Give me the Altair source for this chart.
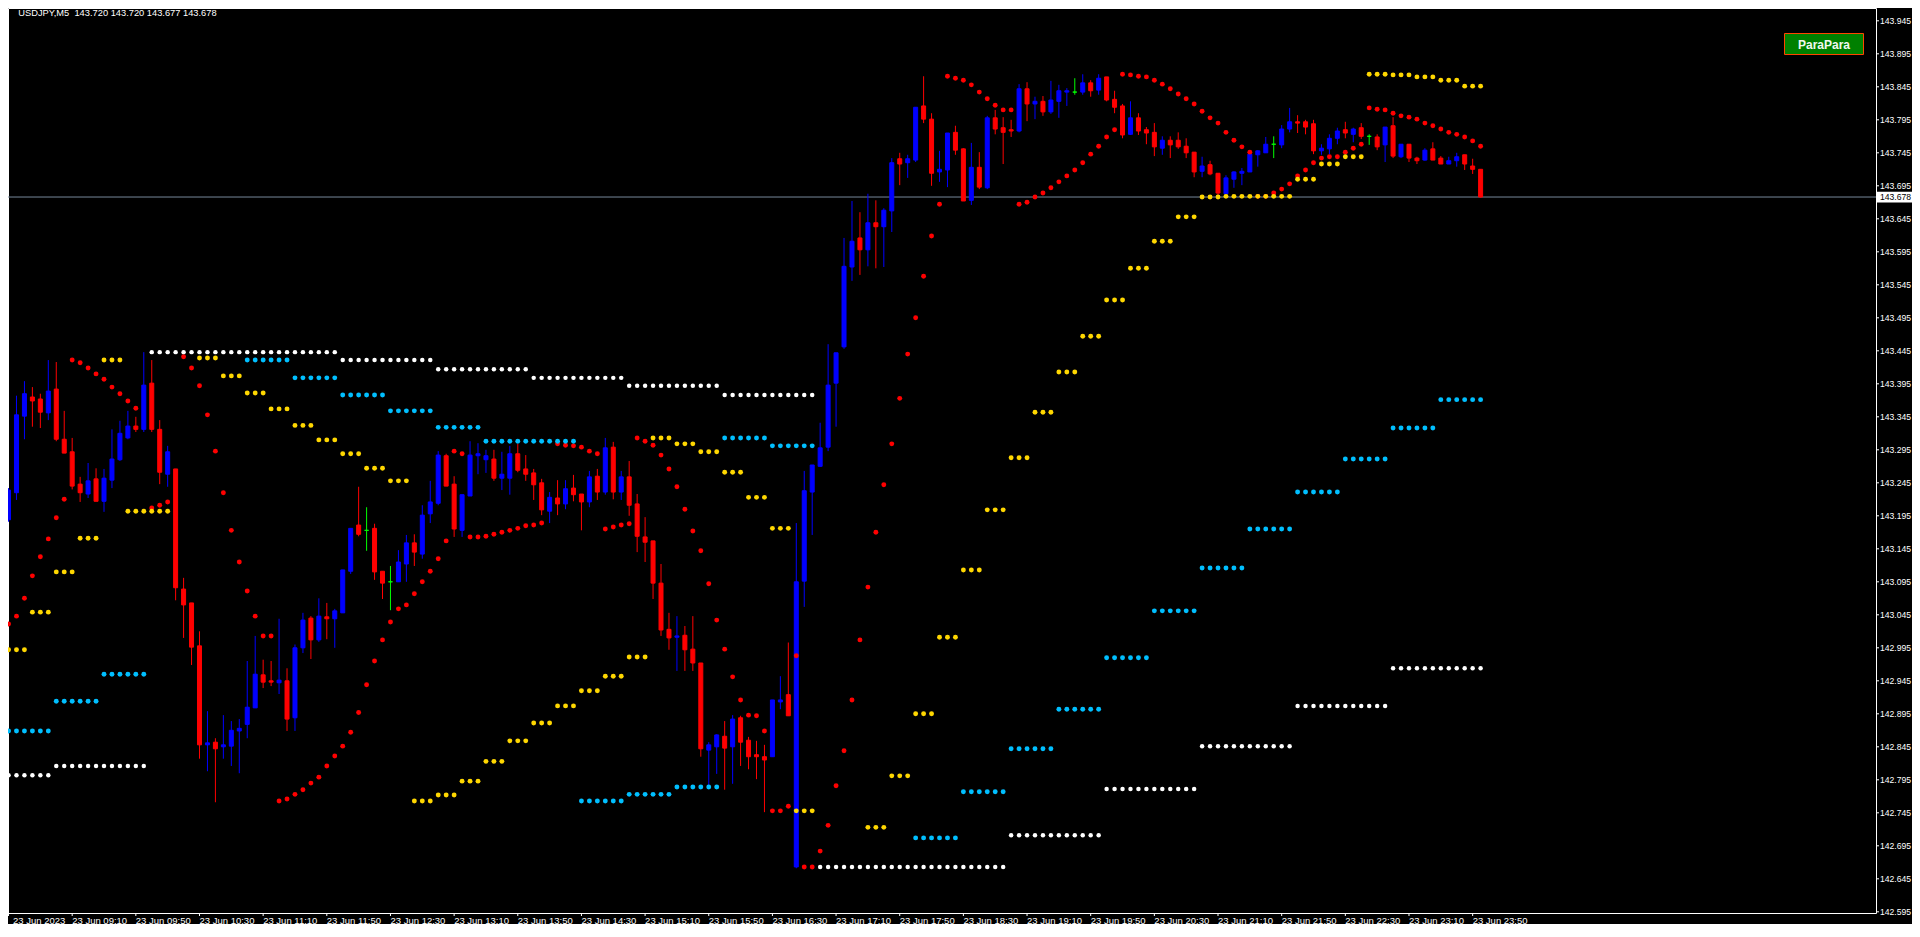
import altair as alt
import pandas as pd

# ---------------- data ----------------
symbol = "USDJPY,M5"

opens = [
    143.189, 143.230, 143.346, 143.375, 143.372, 143.351, 143.387, 143.311, 143.292, 143.243,
    143.228, 143.251, 143.217, 143.249, 143.280, 143.313, 143.331, 143.326, 143.396, 143.326,
    143.258, 143.266, 143.084, 143.063, 142.998, 142.848, 142.852, 142.845, 142.846, 142.869,
    142.879, 142.904, 142.954, 142.945, 142.942, 142.945, 142.889, 142.995, 143.040, 143.007,
    143.042, 143.039, 143.048, 143.111, 143.181, 143.173, 143.176, 143.111, 143.095, 143.095,
    143.122, 143.154, 143.137, 143.198, 143.214, 143.286, 143.243, 143.173, 143.225, 143.286,
    143.280, 143.281, 143.252, 143.252, 143.289, 143.266, 143.260, 143.245, 143.202, 143.222,
    143.213, 143.237, 143.228, 143.216, 143.255, 143.231, 143.299, 143.231, 143.254, 143.213,
    143.163, 143.157, 143.093, 143.023, 143.011, 143.014, 142.993, 142.972, 142.840, 142.845,
    142.861, 142.845, 142.889, 142.855, 142.833, 142.830, 142.830, 142.913, 142.924, 142.663,
    143.096, 143.231, 143.270, 143.299, 143.396, 143.451, 143.572, 143.616, 143.598, 143.639,
    143.633, 143.657, 143.736, 143.730, 143.734, 143.816, 143.796, 143.716, 143.719, 143.776,
    143.751, 143.673, 143.723, 143.692, 143.798, 143.783, 143.780, 143.778, 143.842, 143.819,
    143.823, 143.807, 143.823, 143.837, 143.837, 143.837, 143.851, 143.840, 143.860, 143.826,
    143.816, 143.773, 143.798, 143.780, 143.776, 143.752, 143.764, 143.764, 143.755, 143.746,
    143.717, 143.727, 143.714, 143.683, 143.705, 143.714, 143.716, 143.742, 143.745, 143.758,
    143.757, 143.781, 143.792, 143.792, 143.789, 143.748, 143.751, 143.767, 143.780, 143.773,
    143.783, 143.770, 143.769, 143.757, 143.786, 143.739, 143.758, 143.737, 143.734, 143.751,
    143.737, 143.728, 143.733, 143.742, 143.725, 143.720,
]
highs = [
    143.237, 143.377, 143.399, 143.390, 143.380, 143.431, 143.428, 143.354, 143.313, 143.254,
    143.275, 143.267, 143.266, 143.326, 143.339, 143.354, 143.345, 143.443, 143.431, 143.340,
    143.301, 143.266, 143.101, 143.063, 143.020, 142.899, 142.858, 142.893, 142.884, 142.887,
    142.975, 143.013, 142.977, 142.975, 143.039, 142.964, 143.000, 143.048, 143.043, 143.070,
    143.063, 143.054, 143.113, 143.176, 143.239, 143.208, 143.183, 143.111, 143.119, 143.143,
    143.166, 143.167, 143.211, 143.248, 143.293, 143.289, 143.255, 143.227, 143.308, 143.305,
    143.295, 143.295, 143.292, 143.301, 143.304, 143.287, 143.266, 143.251, 143.231, 143.249,
    143.249, 143.257, 143.228, 143.263, 143.266, 143.313, 143.307, 143.263, 143.278, 143.228,
    143.193, 143.157, 143.122, 143.048, 143.043, 143.028, 143.043, 142.972, 142.852, 142.864,
    142.884, 142.893, 142.892, 142.860, 142.854, 142.848, 142.916, 142.952, 143.003, 143.184,
    143.263, 143.272, 143.336, 143.455, 143.442, 143.616, 143.672, 143.655, 143.683, 143.673,
    143.661, 143.737, 143.745, 143.742, 143.814, 143.861, 143.805, 143.748, 143.775, 143.786,
    143.752, 143.760, 143.746, 143.801, 143.810, 143.799, 143.795, 143.849, 143.852, 143.830,
    143.831, 143.854, 143.848, 143.843, 143.858, 143.864, 143.855, 143.864, 143.860, 143.839,
    143.819, 143.823, 143.805, 143.784, 143.790, 143.770, 143.770, 143.776, 143.767, 143.746,
    143.739, 143.733, 143.714, 143.711, 143.717, 143.722, 143.743, 143.749, 143.769, 143.770,
    143.787, 143.813, 143.802, 143.795, 143.795, 143.758, 143.773, 143.783, 143.792, 143.783,
    143.790, 143.773, 143.773, 143.784, 143.799, 143.758, 143.758, 143.739, 143.752, 143.761,
    143.740, 143.739, 143.745, 143.742, 143.736, 143.720,
]
lows = [
    143.186, 143.219, 143.311, 143.330, 143.328, 143.340, 143.308, 143.290, 143.235, 143.216,
    143.222, 143.217, 143.201, 143.237, 143.278, 143.311, 143.322, 143.322, 143.322, 143.243,
    143.239, 143.067, 143.010, 142.969, 142.827, 142.808, 142.761, 142.827, 142.816, 142.805,
    142.858, 142.904, 142.934, 142.937, 142.925, 142.869, 142.869, 142.987, 142.978, 143.004,
    143.008, 142.995, 143.048, 143.107, 143.164, 143.142, 143.098, 143.069, 143.052, 143.095,
    143.095, 143.119, 143.130, 143.184, 143.211, 143.240, 143.163, 143.163, 143.225, 143.258,
    143.260, 143.248, 143.234, 143.227, 143.261, 143.248, 143.219, 143.196, 143.184, 143.196,
    143.205, 143.217, 143.173, 143.208, 143.219, 143.227, 143.220, 143.219, 143.195, 143.140,
    143.125, 143.069, 143.013, 142.992, 142.960, 142.960, 142.960, 142.830, 142.784, 142.804,
    142.780, 142.789, 142.816, 142.811, 142.796, 142.746, 142.830, 142.902, 142.892, 142.661,
    143.057, 143.166, 143.269, 143.293, 143.330, 143.448, 143.551, 143.560, 143.573, 143.570,
    143.572, 143.625, 143.696, 143.707, 143.731, 143.790, 143.695, 143.701, 143.693, 143.742,
    143.672, 143.666, 143.690, 143.690, 143.773, 143.728, 143.769, 143.776, 143.793, 143.796,
    143.801, 143.804, 143.798, 143.816, 143.833, 143.833, 143.830, 143.833, 143.823, 143.805,
    143.767, 143.772, 143.772, 143.758, 143.740, 143.742, 143.737, 143.751, 143.737, 143.708,
    143.708, 143.711, 143.680, 143.683, 143.692, 143.696, 143.716, 143.724, 143.745, 143.737,
    143.752, 143.776, 143.775, 143.773, 143.743, 143.742, 143.743, 143.758, 143.767, 143.761,
    143.766, 143.757, 143.749, 143.731, 143.737, 143.737, 143.731, 143.728, 143.733, 143.734,
    143.728, 143.728, 143.724, 143.719, 143.713, 143.677,
]
closes = [
    143.234, 143.348, 143.380, 143.369, 143.352, 143.384, 143.311, 143.290, 143.240, 143.230,
    143.248, 143.217, 143.252, 143.281, 143.320, 143.331, 143.326, 143.393, 143.326, 143.261,
    143.292, 143.086, 143.060, 142.996, 142.848, 142.851, 142.842, 142.848, 142.870, 142.873,
    142.905, 142.955, 142.943, 142.943, 142.946, 142.887, 142.995, 143.037, 143.007, 143.043,
    143.039, 143.051, 143.113, 143.176, 143.167, 143.173, 143.110, 143.093, 143.095, 143.125,
    143.154, 143.140, 143.196, 143.216, 143.287, 143.240, 143.175, 143.227, 143.287, 143.289,
    143.286, 143.252, 143.258, 143.289, 143.264, 143.258, 143.242, 143.204, 143.223, 143.213,
    143.236, 143.227, 143.216, 143.254, 143.231, 143.298, 143.231, 143.254, 143.211, 143.164,
    143.155, 143.093, 143.022, 143.010, 143.013, 142.992, 142.972, 142.842, 142.848, 142.863,
    142.843, 142.887, 142.852, 142.830, 142.830, 142.825, 142.916, 142.916, 142.892, 143.095,
    143.233, 143.272, 143.298, 143.393, 143.442, 143.573, 143.611, 143.598, 143.639, 143.633,
    143.658, 143.730, 143.728, 143.736, 143.814, 143.796, 143.714, 143.720, 143.775, 143.749,
    143.672, 143.723, 143.693, 143.798, 143.781, 143.776, 143.778, 143.842, 143.819, 143.823,
    143.807, 143.825, 143.839, 143.839, 143.837, 143.851, 143.839, 143.858, 143.825, 143.814,
    143.772, 143.798, 143.778, 143.775, 143.754, 143.764, 143.757, 143.754, 143.745, 143.716,
    143.725, 143.713, 143.684, 143.707, 143.716, 143.717, 143.743, 143.748, 143.758, 143.758,
    143.781, 143.792, 143.790, 143.784, 143.748, 143.752, 143.767, 143.778, 143.775, 143.781,
    143.770, 143.770, 143.754, 143.784, 143.740, 143.758, 143.737, 143.733, 143.749, 143.734,
    143.728, 143.733, 143.739, 143.728, 143.720, 143.678,
]

# Parabolic SAR value per bar (None where no dot is visible)
sar = [
    143.031, 143.043, 143.070, 143.104, 143.133, 143.160, 143.192, 143.220, 143.431, 143.427,
    143.419, 143.410, 143.402, 143.390, 143.380, 143.369, 143.358, None, 143.207, 143.211,
    143.216, None, 143.436, 143.419, 143.392, 143.348, 143.293, 143.230, 143.173, 143.125,
    143.081, 143.043, 143.013, 143.013, 142.763, 142.766, 142.773, 142.780, 142.790, 142.799,
    142.816, 142.831, 142.846, 142.867, 142.897, 142.939, 142.975, 143.007, 143.034, 143.054,
    143.060, 143.077, 143.095, 143.111, 143.130, 143.157, 143.293, 143.289, 143.163, 143.163,
    143.164, 143.167, 143.170, 143.173, 143.176, 143.180, 143.181, 143.184, None, 143.304,
    143.302, 143.301, 143.299, 143.293, 143.289, 143.175, 143.178, 143.181, 143.183, 143.313,
    143.308, 143.302, 143.287, 143.266, 143.239, 143.205, 143.172, 143.142, 143.092, 143.037,
    142.993, 142.951, 142.916, 142.893, 142.892, 142.869, 142.748, 142.748, 142.755, 142.983,
    142.663, 142.663, 142.687, 142.726, 142.786, 142.839, 142.916, 143.007, 143.087, 143.170,
    143.242, 143.304, 143.373, 143.440, 143.495, 143.558, 143.619, 143.667, 143.861, 143.858,
    143.855, 143.848, 143.837, 143.827, 143.817, 143.810, 143.810, 143.667, 143.670, 143.678,
    143.684, 143.692, 143.701, 143.710, 143.719, 143.730, 143.743, 143.755, 143.769, 143.780,
    143.864, 143.863, 143.861, 143.860, 143.855, 143.849, 143.842, 143.834, 143.827, 143.819,
    143.808, 143.798, 143.790, 143.776, 143.764, 143.754, 143.746, 143.679, 143.679, 143.684,
    143.690, 143.698, 143.710, 143.719, 143.730, 143.737, 143.739, 143.739, 143.746, 143.752,
    143.758, 143.813, 143.811, 143.810, 143.805, 143.801, 143.799, 143.796, 143.790, 143.786,
    143.781, 143.776, 143.773, 143.769, 143.763, 143.755,
]

# step-dot levels: first bar, number of bars, price
yellow_start = [0, 3, 6, 9, 12, 15, 24, 27, 30, 33, 36, 39, 42, 45, 48, 51, 54, 57, 60, 63,
                66, 69, 72, 75, 78, 81, 84, 87, 90, 93, 96, 99, 108, 111, 114, 117, 120, 123,
                126, 129, 132, 135, 138, 141, 144, 147, 150, 153, 162, 165, 168, 171, 174,
                177, 180, 183]
yellow_len = [3, 3, 3, 3, 3, 6, 3, 3, 3, 3, 3, 3, 3, 3, 3, 3, 3, 3, 3, 3,
              3, 3, 3, 3, 3, 3, 3, 3, 3, 3, 3, 3, 3, 3, 3, 3, 3, 3,
              3, 3, 3, 3, 3, 3, 3, 3, 3, 9, 3, 3, 3, 3, 3,
              3, 3, 3]
yellow_level = [142.992, 143.049, 143.110, 143.161, 143.431, 143.202, 143.434, 143.407,
                143.381, 143.357, 143.332, 143.310, 143.289, 143.267, 143.248, 142.763,
                142.772, 142.793, 142.823, 142.854, 142.881, 142.907, 142.930, 142.952,
                142.981, 143.313, 143.304, 143.292, 143.261, 143.223, 143.176, 142.748,
                142.723, 142.801, 142.895, 143.011, 143.113, 143.204, 143.283, 143.352,
                143.413, 143.467, 143.522, 143.570, 143.611, 143.648, 143.678, 143.679,
                143.705, 143.728, 143.739, 143.864, 143.863, 143.860, 143.855, 143.846]

cyan_start = [0, 6, 12, 30, 36, 42, 48, 54, 60, 72, 78, 84, 90, 96, 114, 120, 126, 132,
              138, 144, 150, 156, 162, 168, 174, 180]
cyan_len = [6, 6, 6, 6, 6, 6, 6, 6, 12, 6, 6, 6, 6, 6, 6, 6, 6, 6,
            6, 6, 6, 6, 6, 6, 6, 6]
cyan_level = [142.869, 142.914, 142.955, 143.431, 143.404, 143.378, 143.354, 143.329,
              143.308, 142.763, 142.773, 142.784, 143.313, 143.301, 142.707, 142.777,
              142.842, 142.902, 142.980, 143.051, 143.116, 143.175, 143.231, 143.281,
              143.328, 143.371]

white_start = [0, 6, 18, 42, 54, 66, 78, 90, 102, 126, 138, 150, 162, 174]
white_len = [6, 12, 24, 12, 12, 12, 12, 12, 24, 12, 12, 12, 12, 12]
white_level = [142.802, 142.816, 143.443, 143.431, 143.417, 143.404, 143.392, 143.378,
               142.663, 142.711, 142.781, 142.846, 142.907, 142.964]

price_ticks = [143.945, 143.895, 143.845, 143.795, 143.745, 143.695, 143.645, 143.595,
               143.545, 143.495, 143.445, 143.395, 143.345, 143.295, 143.245, 143.195,
               143.145, 143.095, 143.045, 142.995, 142.945, 142.895, 142.845, 142.795,
               142.745, 142.695, 142.645, 142.595]

time_bars = [0, 8, 16, 24, 32, 40, 48, 56, 64, 72, 80, 88, 96, 104, 112, 120, 128, 136,
             144, 152, 160, 168, 176, 184]
time_labels = ["23 Jun 2023", "23 Jun 09:10", "23 Jun 09:50", "23 Jun 10:30",
               "23 Jun 11:10", "23 Jun 11:50", "23 Jun 12:30", "23 Jun 13:10",
               "23 Jun 13:50", "23 Jun 14:30", "23 Jun 15:10", "23 Jun 15:50",
               "23 Jun 16:30", "23 Jun 17:10", "23 Jun 17:50", "23 Jun 18:30",
               "23 Jun 19:10", "23 Jun 19:50", "23 Jun 20:30", "23 Jun 21:10",
               "23 Jun 21:50", "23 Jun 22:30", "23 Jun 23:10", "23 Jun 23:50"]

button_label = "ParaPara"

# ---------------- layout / style ----------------
W, H = 1868, 905
BAR_PX = 8
X0 = 0.5625
xs = alt.Scale(domain=[X0, X0 + W / BAR_PX], nice=False, zero=False)
Y_LO, Y_HI = 142.5932, 143.9644
ys = alt.Scale(domain=[Y_LO, Y_HI], nice=False, zero=False)

AX_FONT = "Tahoma, 'Liberation Sans', Arial, sans-serif"
WHITE = "#FFFFFF"

cscale = alt.Scale(domain=["up", "down", "doji"], range=["#0000FF", "#FF0000", "#00FF00"])

n = len(opens)
bars = pd.DataFrame({"bar": list(range(n)), "open": opens, "high": highs,
                     "low": lows, "close": closes})
bars["top"] = bars[["high", "open", "close"]].max(axis=1)
bars["bottom"] = bars[["low", "open", "close"]].min(axis=1)
bars["dir"] = ["up" if c > o else ("down" if c < o else "doji") for o, c in zip(opens, closes)]

sar_df = pd.DataFrame({"bar": list(range(n)), "v": sar}).dropna()


def expand(starts, lens, levels):
    rows = []
    for s, ln, v in zip(starts, lens, levels):
        for b in range(s, s + ln):
            rows.append({"bar": b, "v": v})
    return pd.DataFrame(rows)


yel_df = expand(yellow_start, yellow_len, yellow_level)
cyan_df = expand(cyan_start, cyan_len, cyan_level)
white_df = expand(white_start, white_len, white_level)

Xb = alt.X("bar:Q", scale=xs, axis=None)

last = pd.DataFrame({"p": [closes[-1]]})

price_line = alt.Chart(last).mark_rule(color="#778899", strokeWidth=1).encode(
    y=alt.Y("p:Q", scale=ys, axis=None), x=alt.value(0), x2=alt.value(W))

wicks = alt.Chart(bars).mark_rule(strokeWidth=1).encode(
    x=Xb,
    y=alt.Y("bottom:Q", scale=ys, axis=None),
    y2="top:Q",
    color=alt.Color("dir:N", scale=cscale, legend=None))

bodies = alt.Chart(bars).mark_bar(width=4, strokeWidth=1).encode(
    x=Xb,
    y=alt.Y("open:Q", scale=ys, axis=None),
    y2="close:Q",
    color=alt.Color("dir:N", scale=cscale, legend=None),
    stroke=alt.Stroke("dir:N", scale=cscale, legend=None))


def dots(df, color, size):
    return alt.Chart(df).mark_circle(size=size, color=color, opacity=1).encode(
        x=Xb, y=alt.Y("v:Q", scale=ys, axis=None))


sar_layer = dots(sar_df, "#FF0000", 24)
yel_layer = dots(yel_df, "#FFD700", 24)
cyan_layer = dots(cyan_df, "#00BFFF", 24)
white_layer = dots(white_df, WHITE, 20)

# right price scale (drawn as marks so it shows beside the plot)
pdf = pd.DataFrame({"p": price_ticks})
price_tick_marks = alt.Chart(pdf).mark_rule(color=WHITE, strokeWidth=1).encode(
    y=alt.Y("p:Q", scale=ys, axis=None), x=alt.value(W), x2=alt.value(W + 3))
price_tick_text = alt.Chart(pdf).mark_text(align="left", baseline="middle", font=AX_FONT,
                                           fontSize=8.6, color=WHITE).encode(
    y=alt.Y("p:Q", scale=ys, axis=None), x=alt.value(W + 4),
    text=alt.Text("p:Q", format=".3f"))

BOX = "M -1 -0.27 L 1 -0.27 L 1 0.27 L -1 0.27 Z"
price_box = alt.Chart(last).mark_point(shape=BOX, filled=True, fill=WHITE, size=1600,
                                       opacity=1, strokeWidth=0).encode(
    x=alt.value(W + 20.5), y=alt.Y("p:Q", scale=ys, axis=None))
price_text = alt.Chart(last).mark_text(align="left", baseline="middle", font=AX_FONT,
                                       fontSize=8.6, color="#000000").encode(
    x=alt.value(W + 4), y=alt.Y("p:Q", scale=ys, axis=None),
    text=alt.Text("p:Q", format=".3f"))

tdf = pd.DataFrame({"bar": time_bars, "label": time_labels})
tdf["lx"] = [max(b, X0) for b in time_bars]
time_ticks = alt.Chart(tdf).mark_rule(color=WHITE, strokeWidth=1).encode(
    x=Xb, y=alt.value(H), y2=alt.value(H + 3))
time_text = alt.Chart(tdf).mark_text(align="left", baseline="alphabetic", font=AX_FONT,
                                     fontSize=9.5, color=WHITE).encode(
    x=alt.X("lx:Q", scale=xs, axis=None), y=alt.value(H + 10.5), text="label:N")

title_txt = "{}\u00a0\u00a0{:.3f} {:.3f} {:.3f} {:.3f}".format(
    symbol, opens[-1], highs[-1], lows[-1], closes[-1])
title = alt.Chart(pd.DataFrame({"t": [title_txt]})).mark_text(
    align="left", baseline="middle", font=AX_FONT, fontSize=9.3, color=WHITE).encode(
    x=alt.value(10.3), y=alt.value(4.5), text="t:N")

btn_df = pd.DataFrame({"t": [button_label]})
button = alt.Chart(btn_df).mark_rect(fill="#008000", stroke="#FF4500", strokeWidth=1).encode(
    x=alt.value(1776.5), x2=alt.value(1855.5), y=alt.value(25.5), y2=alt.value(46.5))
button_text = alt.Chart(btn_df).mark_text(align="center", baseline="middle", font=AX_FONT,
                                          fontSize=12, fontWeight="bold",
                                          color="#F0F8F0").encode(
    x=alt.value(1816), y=alt.value(36.5), text="t:N")

chart = alt.layer(
    price_line, wicks, bodies, sar_layer, yel_layer, cyan_layer, white_layer,
    price_tick_marks, price_tick_text, price_box, price_text,
    time_ticks, time_text, title, button, button_text,
).properties(
    width=W, height=H, background="#000000",
    padding={"left": 0, "top": 0, "right": 36, "bottom": 11},
    autosize=alt.AutoSizeParams(type="none"),
).configure_view(stroke=WHITE, strokeWidth=1, fill="#000000")

chart.save("out.html", embed_options={"renderer": "svg", "actions": False})
